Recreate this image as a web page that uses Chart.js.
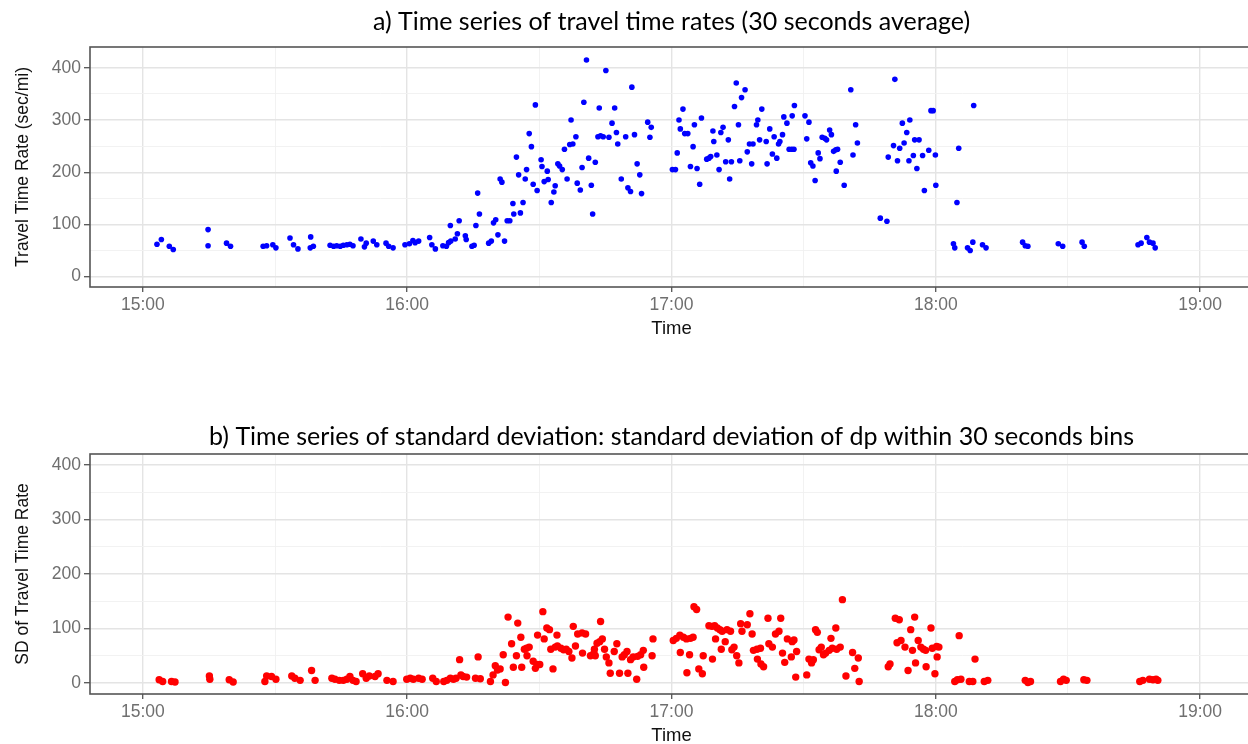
<!DOCTYPE html>
<html>
<head>
<meta charset="utf-8">
<title>Travel time rate time series</title>
<script src="https://cdn.jsdelivr.net/npm/chart.js@4.4.1/dist/chart.umd.min.js"></script>
<style>
  html, body { margin: 0; padding: 0; background: #fff; overflow: hidden; width: 1248px; height: 744px; }
  .panel { position: absolute; left: 0; }
  #panelA { top: 0; }
  #panelB { top: 407px; }
  canvas { display: block; }
</style>
</head>
<body>
<div class="panel" id="panelA"><canvas id="chartA" width="1253" height="345"></canvas></div>
<div class="panel" id="panelB"><canvas id="chartB" width="1253" height="345"></canvas></div>
<script>
// Times are minutes after 15:00 (30-second bins).
// a) mean travel time rate per bin (sec/mi)
const tA = [3.2,4.2,6.0,6.9,14.8,14.8,19.0,19.9,27.3,28.1,
  29.5,30.2,33.4,34.2,35.2,38.0,38.1,38.7,42.5,43.3,
  44.0,44.8,45.5,46.3,47.0,47.7,49.5,50.3,50.7,52.3,
  53.1,55.2,55.8,56.8,59.5,60.5,61.3,61.8,62.6,65.1,
  65.6,66.4,68.1,68.9,69.4,69.8,69.9,70.9,71.4,71.8,
  73.2,73.4,74.7,75.2,75.6,76.0,76.4,78.5,79.1,79.6,
  80.1,80.6,81.1,81.5,82.1,82.7,83.3,84.0,84.2,84.8,
  85.3,85.7,86.3,86.8,87.1,87.7,88.2,88.6,89.1,89.5,
  90.4,90.6,91.1,91.8,92.0,92.7,93.3,93.6,94.2,94.6,
  95.2,95.7,96.3,96.9,97.2,97.6,98.3,98.6,99.3,99.7,
  100.1,100.7,101.2,101.8,102.1,102.7,103.3,103.6,103.9,104.5,
  105.1,105.8,106.5,107.1,107.5,107.8,108.6,109.6,110.1,110.7,
  111.0,111.6,112.2,112.8,113.2,114.6,115.1,115.4,
  120.2,120.9,121.3,121.7,122.0,122.6,123.0,123.7,124.3,124.9,
  125.2,125.8,126.4,126.8,128.0,128.5,128.9,129.4,129.6,130.3,
  130.8,131.2,131.7,132.3,132.9,133.2,133.6,134.3,134.7,135.2,
  135.5,135.9,136.7,137.2,137.7,138.2,138.5,139.3,139.6,140.0,
  140.5,141.5,141.7,142.3,142.9,143.3,143.9,144.3,144.6,145.2,
  145.5,146.2,146.7,147.3,147.4,147.8,147.9,150.3,150.7,151.2,
  151.6,152.1,152.6,153.3,153.7,154.2,154.8,155.2,155.9,156.3,
  156.8,157.3,157.4,157.7,158.3,159.2,160.7,161.2,161.8,162.2,
  167.4,168.9,169.2,170.4,170.7,171.3,171.8,172.4,172.8,173.4,
  173.9,174.1,174.9,175.2,175.7,176.2,177.0,177.4,178.4,178.9,
  179.4,179.9,180.0,184.0,184.3,184.8,185.2,187.2,187.8,188.4,
  188.6,190.6,191.4,199.7,200.3,200.9,207.8,208.8,213.2,213.7,
  225.9,226.6,227.9,228.5,229.3,229.8];
const rateA = [62,71,58,52,90,59,64,58,58,59,
  61,55,74,61,53,55,76,58,60,58,
  59,58,60,61,62,59,72,57,64,68,
  61,64,58,55,61,63,69,65,68,75,
  61,53,59,58,65,98,68,72,82,107,
  78,71,58,60,98,160,120,64,68,103,
  109,80,187,181,68,107,107,140,120,229,
  195,122,142,187,205,274,249,177,329,165,
  224,211,182,202,186,142,162,174,216,212,
  205,244,187,253,300,254,268,179,166,209,
  334,415,227,175,120,219,268,323,270,268,
  395,267,294,323,276,254,187,268,170,163,
  363,272,216,195,159,296,267,286,
  205,205,237,300,283,321,274,274,211,249,
  291,207,177,304,225,227,230,279,259,233,
  205,276,286,220,262,187,220,326,371,291,
  222,343,358,239,254,216,254,291,300,262,
  321,259,216,283,235,268,227,254,259,272,
  306,294,244,244,308,244,328,308,264,296,
  218,212,184,237,226,267,265,262,281,272,
  240,243,202,244,219,175,358,233,291,256,
  112,106,229,251,378,222,246,294,256,276,
  222,300,232,262,207,262,232,165,242,318,
  318,233,175,63,55,142,246,55,50,66,
  328,61,55,66,59,58,63,58,66,58,
  61,64,75,66,64,55];

// b) standard deviation of dp within each bin
const tB = [3.7,4.5,6.5,7.3,15.1,15.2,19.6,20.5,27.7,28.1,
  29.2,30.2,33.8,34.5,35.7,38.3,39.1,42.9,43.6,44.6,
  45.5,46.3,47.0,47.7,48.4,49.9,50.7,51.4,52.7,53.4,
  55.4,56.8,59.9,60.7,61.4,62.6,63.4,65.8,66.6,68.3,
  69.0,69.8,70.5,71.1,71.9,72.2,72.7,73.5,75.5,76.1,
  76.6,78.9,79.5,80.0,80.5,81.1,81.8,82.3,82.9,83.7,
  84.1,84.8,85.1,85.8,86.0,86.6,87.1,87.2,87.7,88.6,
  89.1,89.5,89.6,90.1,90.8,91.1,91.7,92.3,92.6,93.1,
  93.6,94.0,94.1,94.9,95.5,96.1,96.7,97.4,97.7,98.2,
  98.7,99.7,99.8,100.5,101.6,102.4,102.5,102.7,103.1,103.7,
  103.9,104.3,104.8,105.2,105.8,106.1,107.0,107.6,108.2,108.8,
  109.3,109.9,110.1,110.7,111.3,112.1,112.3,113.0,113.6,113.7,
  115.6,115.8,120.4,121.1,121.9,122.0,122.7,123.4,123.5,124.1,
  124.3,124.9,125.1,125.7,126.2,127.0,127.2,128.5,129.2,129.3,
  129.8,130.0,130.4,131.0,131.3,131.5,132.2,132.6,133.4,133.7,
  134.2,134.8,135.3,135.7,136.0,137.2,137.8,138.3,138.6,139.4,
  139.5,140.2,140.3,140.9,141.9,142.1,142.9,143.6,144.4,144.8,
  145.2,145.7,146.3,147.2,147.4,147.8,148.2,148.4,150.7,151.2,
  151.8,152.2,152.7,153.1,153.5,154.0,154.5,155.0,155.8,156.2,
  156.5,157.3,157.5,158.3,158.8,159.6,161.1,161.6,162.4,162.6,
  169.2,169.6,170.8,171.2,171.7,172.1,173.0,173.7,174.3,174.7,
  175.2,175.4,176.0,176.6,177.2,177.7,177.8,178.9,179.2,179.8,
  180.2,180.3,180.7,184.3,184.9,185.3,185.7,187.6,188.4,188.9,
  191.0,191.8,200.3,200.9,201.5,208.3,209.0,209.6,213.6,214.3,
  226.3,227.0,228.5,229.3,230.0,230.4];
const sdB = [6,3,3,2,13,7,6,2,3,13,
  12,7,13,9,5,23,5,9,7,5,
  5,7,12,5,3,17,9,13,12,17,
  5,3,7,9,7,9,7,9,3,3,
  5,9,7,9,43,15,12,11,9,48,
  8,3,15,32,24,26,52,1,121,72,
  29,50,110,84,29,62,64,50,66,40,
  27,34,88,34,131,81,101,98,62,26,
  66,88,68,64,61,62,58,46,104,68,
  90,92,55,90,50,55,62,50,73,76,
  113,81,62,48,37,18,58,72,18,48,
  52,58,18,43,48,7,49,52,60,29,
  50,81,78,82,88,56,84,81,19,52,
  82,84,140,135,26,17,50,105,104,44,
  105,81,101,98,62,95,76,98,95,61,
  66,50,37,109,95,107,127,90,60,62,
  44,64,35,30,119,72,66,90,95,119,
  55,38,81,48,76,79,11,58,15,44,
  37,43,98,93,61,66,52,55,60,82,
  64,101,62,66,153,13,56,27,46,3,
  30,35,119,74,116,78,66,23,98,60,
  121,37,78,66,62,60,30,101,64,17,
  67,48,66,3,6,87,7,3,3,44,
  3,5,5,1,3,3,7,5,6,5,
  3,5,7,6,7,5];

// Axis breaks
const hourTicks = [0, 60, 120, 180, 240];
const hourLabels = ['15:00', '16:00', '17:00', '18:00', '19:00'];
const halfHourTicks = [30, 90, 150, 210];
const yMajor = [0, 100, 200, 300, 400];
const yMinor = [50, 150, 250, 350];

const AXIS_FONT = '"Liberation Sans", Arial, sans-serif';
const TITLE_FONT = 'Lato, "Open Sans", sans-serif';

// Panel border drawn over the points
const panelFrame = {
  id: 'panelFrame',
  afterDatasetsDraw(chart) {
    const { ctx, chartArea: a } = chart;
    ctx.save();
    ctx.strokeStyle = '#555';
    ctx.lineWidth = 1.6;
    ctx.strokeRect(a.left, a.top, a.right - a.left, a.bottom - a.top);
    ctx.restore();
  }
};

const tickOf = c => (c && c.tick) ? c.tick.value : NaN;

function makePanel(id, o) {
  const xBreaks = hourTicks.concat(halfHourTicks).sort((a, b) => a - b);
  const yBreaks = yMajor.concat(yMinor).sort((a, b) => a - b);
  return new Chart(document.getElementById(id), {
    type: 'scatter',
    data: {
      datasets: [{
        data: o.t.map((m, i) => ({ x: m, y: o.v[i] })),
        backgroundColor: o.color,
        borderWidth: 0,
        pointRadius: o.radius,
        pointHoverRadius: o.radius
      }]
    },
    options: {
      responsive: false,
      animation: false,
      events: [],
      layout: { padding: 0, autoPadding: false },
      plugins: {
        legend: { display: false },
        tooltip: { enabled: false },
        title: {
          display: true,
          text: o.title,
          fullSize: false,
          color: '#000',
          font: { family: TITLE_FONT, size: 25, weight: 'normal', lineHeight: 1.2 },
          padding: o.titlePad
        }
      },
      scales: {
        x: {
          type: 'linear',
          min: -12,
          max: 252,
          afterBuildTicks: s => { s.ticks = xBreaks.map(v => ({ value: v })); },
          afterFit: s => { s.height = 58; },
          border: { display: false },
          grid: {
            color: c => hourTicks.includes(tickOf(c)) ? '#e4e4e4' : '#f0f0f0',
            lineWidth: c => hourTicks.includes(tickOf(c)) ? 1.4 : 0.9,
            drawTicks: true,
            tickLength: 5,
            tickWidth: 1.3,
            tickColor: c => hourTicks.includes(tickOf(c)) ? '#555' : 'rgba(0,0,0,0)'
          },
          ticks: {
            autoSkip: false,
            maxRotation: 0,
            minRotation: 0,
            padding: 3,
            color: '#6f6f6f',
            font: { family: AXIS_FONT, size: 17.5 },
            callback: v => {
              const k = hourTicks.indexOf(v);
              return k < 0 ? '' : hourLabels[k];
            }
          },
          title: {
            display: true,
            text: 'Time',
            color: '#111',
            font: { family: AXIS_FONT, size: 18.5 },
            padding: { top: 0, bottom: 5 }
          }
        },
        y: {
          type: 'linear',
          min: -20,
          max: o.yMax,
          afterBuildTicks: s => { s.ticks = yBreaks.map(v => ({ value: v })); },
          afterFit: s => { s.width = 90; },
          border: { display: false },
          grid: {
            color: c => yMajor.includes(tickOf(c)) ? '#e4e4e4' : '#f0f0f0',
            lineWidth: c => yMajor.includes(tickOf(c)) ? 1.4 : 0.9,
            drawTicks: true,
            tickLength: 6,
            tickWidth: 1.3,
            tickColor: c => yMajor.includes(tickOf(c)) ? '#555' : 'rgba(0,0,0,0)'
          },
          ticks: {
            autoSkip: false,
            padding: 3,
            color: '#6f6f6f',
            font: { family: AXIS_FONT, size: 17.5 },
            callback: v => yMajor.includes(v) ? String(v) : ''
          },
          title: {
            display: true,
            text: o.yTitle,
            color: '#111',
            font: { family: AXIS_FONT, size: 17.5 },
            padding: { top: 13, bottom: 0 }
          }
        }
      }
    },
    plugins: [panelFrame]
  });
}

makePanel('chartA', {
  t: tA, v: rateA,
  color: '#0000ff', radius: 2.8,
  yMax: 440,
  title: 'a) Time series of travel time rates (30 seconds average)',
  titlePad: { top: 7, bottom: 10 },
  yTitle: 'Travel Time Rate (sec/mi)'
});

makePanel('chartB', {
  t: tB, v: sdB,
  color: '#ff0000', radius: 3.7,
  yMax: 420,
  title: 'b) Time series of standard deviation: standard deviation of dp within 30 seconds bins',
  titlePad: { top: 15, bottom: 2 },
  yTitle: 'SD of Travel Time Rate'
});
</script>
</body>
</html>
